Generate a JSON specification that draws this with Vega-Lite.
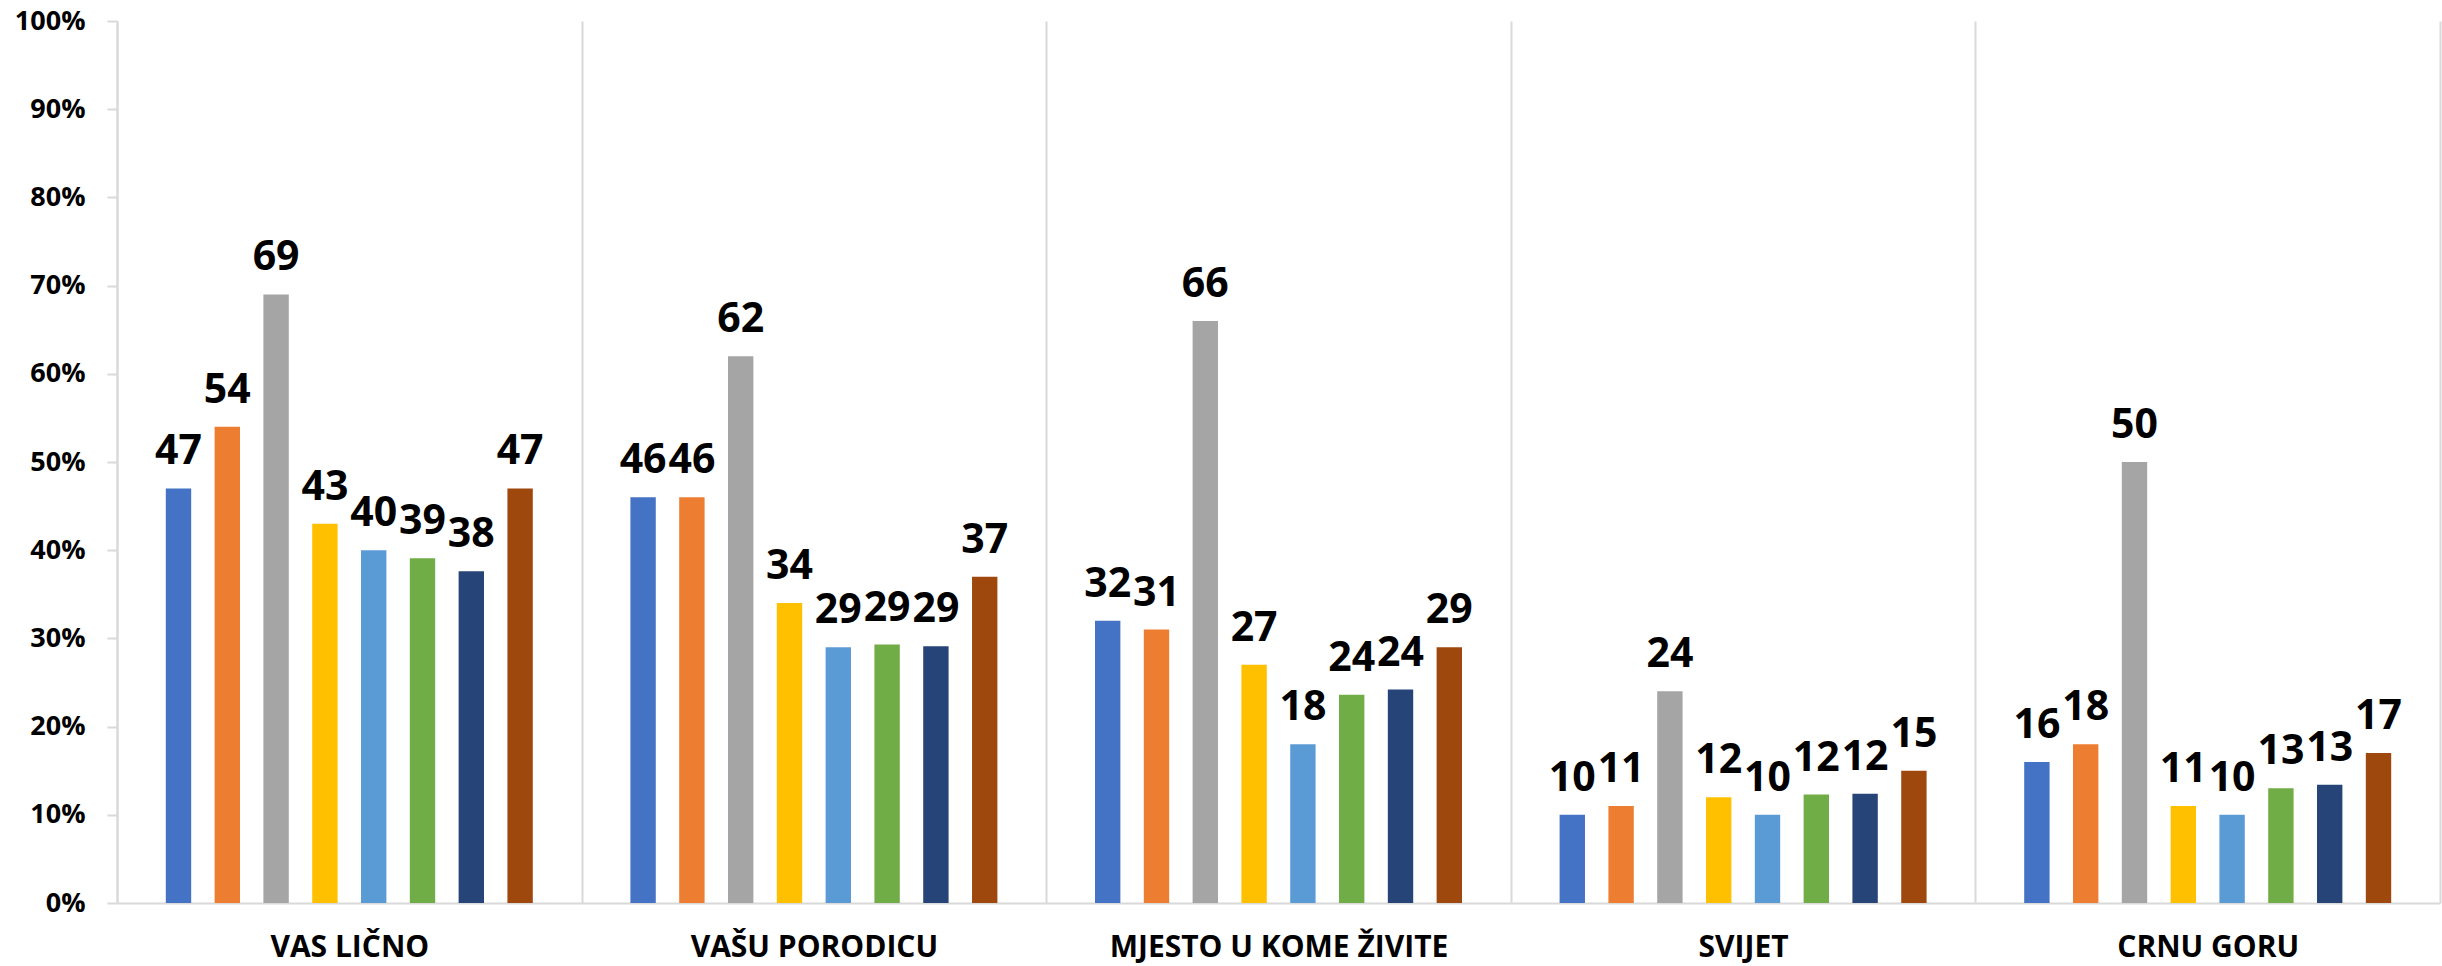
{
  "$schema": "https://vega.github.io/schema/vega-lite/v6.json",
  "width": 2323,
  "height": 882,
  "autosize": {"type": "none"},
  "padding": {"left": 117, "top": 21, "right": 2, "bottom": 63},
  "background": "white",
  "config": {
    "view": {"stroke": null},
    "font": "Open Sans"
  },
  "data": {
    "values": [
      {"grupa": "VAS LIČNO", "serija": "S1", "vrijednost": 47},
      {"grupa": "VAS LIČNO", "serija": "S2", "vrijednost": 54},
      {"grupa": "VAS LIČNO", "serija": "S3", "vrijednost": 69},
      {"grupa": "VAS LIČNO", "serija": "S4", "vrijednost": 43},
      {"grupa": "VAS LIČNO", "serija": "S5", "vrijednost": 40},
      {"grupa": "VAS LIČNO", "serija": "S6", "vrijednost": 39.1},
      {"grupa": "VAS LIČNO", "serija": "S7", "vrijednost": 37.6},
      {"grupa": "VAS LIČNO", "serija": "S8", "vrijednost": 47},
      {"grupa": "VAŠU PORODICU", "serija": "S1", "vrijednost": 46},
      {"grupa": "VAŠU PORODICU", "serija": "S2", "vrijednost": 46},
      {"grupa": "VAŠU PORODICU", "serija": "S3", "vrijednost": 62},
      {"grupa": "VAŠU PORODICU", "serija": "S4", "vrijednost": 34},
      {"grupa": "VAŠU PORODICU", "serija": "S5", "vrijednost": 29},
      {"grupa": "VAŠU PORODICU", "serija": "S6", "vrijednost": 29.3},
      {"grupa": "VAŠU PORODICU", "serija": "S7", "vrijednost": 29.1},
      {"grupa": "VAŠU PORODICU", "serija": "S8", "vrijednost": 37},
      {"grupa": "MJESTO U KOME ŽIVITE", "serija": "S1", "vrijednost": 32},
      {"grupa": "MJESTO U KOME ŽIVITE", "serija": "S2", "vrijednost": 31},
      {"grupa": "MJESTO U KOME ŽIVITE", "serija": "S3", "vrijednost": 66},
      {"grupa": "MJESTO U KOME ŽIVITE", "serija": "S4", "vrijednost": 27},
      {"grupa": "MJESTO U KOME ŽIVITE", "serija": "S5", "vrijednost": 18},
      {"grupa": "MJESTO U KOME ŽIVITE", "serija": "S6", "vrijednost": 23.6},
      {"grupa": "MJESTO U KOME ŽIVITE", "serija": "S7", "vrijednost": 24.2},
      {"grupa": "MJESTO U KOME ŽIVITE", "serija": "S8", "vrijednost": 29},
      {"grupa": "SVIJET", "serija": "S1", "vrijednost": 10},
      {"grupa": "SVIJET", "serija": "S2", "vrijednost": 11},
      {"grupa": "SVIJET", "serija": "S3", "vrijednost": 24},
      {"grupa": "SVIJET", "serija": "S4", "vrijednost": 12},
      {"grupa": "SVIJET", "serija": "S5", "vrijednost": 10},
      {"grupa": "SVIJET", "serija": "S6", "vrijednost": 12.3},
      {"grupa": "SVIJET", "serija": "S7", "vrijednost": 12.4},
      {"grupa": "SVIJET", "serija": "S8", "vrijednost": 15},
      {"grupa": "CRNU GORU", "serija": "S1", "vrijednost": 16},
      {"grupa": "CRNU GORU", "serija": "S2", "vrijednost": 18},
      {"grupa": "CRNU GORU", "serija": "S3", "vrijednost": 50},
      {"grupa": "CRNU GORU", "serija": "S4", "vrijednost": 11},
      {"grupa": "CRNU GORU", "serija": "S5", "vrijednost": 10},
      {"grupa": "CRNU GORU", "serija": "S6", "vrijednost": 13},
      {"grupa": "CRNU GORU", "serija": "S7", "vrijednost": 13.4},
      {"grupa": "CRNU GORU", "serija": "S8", "vrijednost": 17}
    ]
  },
  "encoding": {
    "x": {
      "field": "grupa",
      "type": "nominal",
      "sort": null,
      "scale": {"paddingInner": 0, "paddingOuter": 0},
      "axis": {
        "title": null,
        "labelAngle": 0,
        "labelLimit": 0,
        "labelFont": "Open Sans",
        "labelFontWeight": "bold",
        "labelFontSize": 30,
        "labelColor": "#000000",
        "labelPadding": 29,
        "ticks": false,
        "grid": true,
        "tickBand": "extent",
        "gridColor": "#d9d9d9",
        "gridWidth": 2,
        "domainColor": "#d9d9d9",
        "domainWidth": 2
      }
    },
    "xOffset": {
      "field": "serija",
      "type": "nominal",
      "sort": null,
      "scale": {"paddingInner": 0.48, "paddingOuter": 1}
    },
    "y": {
      "field": "vrijednost",
      "type": "quantitative",
      "scale": {"domain": [0, 100], "nice": false},
      "axis": {
        "title": null,
        "values": [0, 10, 20, 30, 40, 50, 60, 70, 80, 90, 100],
        "labelExpr": "datum.value + '%'",
        "labelFont": "Open Sans",
        "labelFontWeight": "bold",
        "labelFontSize": 27,
        "labelColor": "#000000",
        "labelPadding": 22,
        "tickSize": 10,
        "tickColor": "#d9d9d9",
        "tickWidth": 2,
        "domainColor": "#d9d9d9",
        "domainWidth": 2,
        "grid": false
      }
    }
  },
  "layer": [
    {
      "mark": {"type": "bar"},
      "encoding": {
        "color": {
          "field": "serija",
          "type": "nominal",
          "scale": {
            "domain": ["S1", "S2", "S3", "S4", "S5", "S6", "S7", "S8"],
            "range": ["#4472C4", "#ED7D31", "#A5A5A5", "#FFC000", "#5B9BD5", "#70AD47", "#264478", "#9E480E"]
          },
          "legend": null
        }
      }
    },
    {
      "mark": {
        "type": "text",
        "baseline": "alphabetic",
        "align": "center",
        "dy": -24,
        "font": "Open Sans",
        "fontWeight": "bold",
        "fontSize": 41,
        "color": "#000000"
      },
      "encoding": {
        "text": {"field": "vrijednost", "type": "quantitative", "format": ".0f"}
      }
    }
  ]
}
